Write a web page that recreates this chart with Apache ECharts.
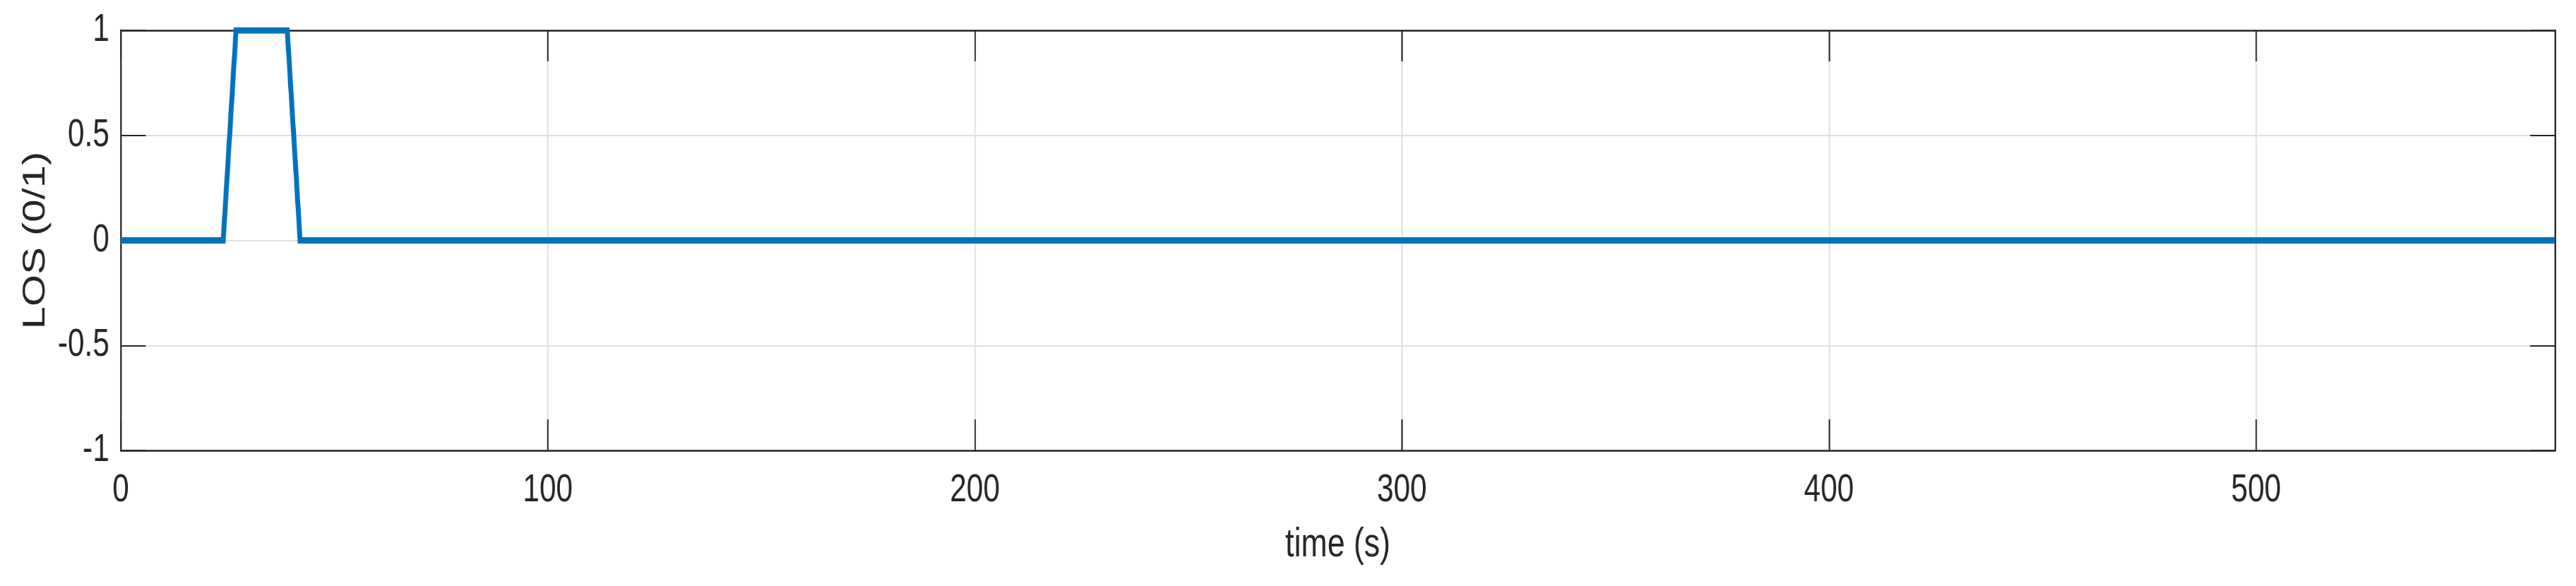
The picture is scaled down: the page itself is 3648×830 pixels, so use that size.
<!DOCTYPE html>
<html>
<head>
<meta charset="utf-8">
<script src="https://cdn.jsdelivr.net/npm/echarts@6/dist/echarts.min.js"></script>
<style>
html, body { margin: 0; padding: 0; background: #ffffff; overflow: hidden; width: 3648px; height: 830px; }
#chart { width: 4738px; height: 830px; transform: scaleX(0.77); transform-origin: 0 0; }
</style>
</head>
<body>
<div id="chart"></div>
<script>
// Data
const timeSec = [0, 24, 27, 39, 42, 570];
const losValue = [0, 0, 1, 1, 0, 0];
const xTicks = [0, 100, 200, 300, 400, 500];
const yTicks = [-1, -0.5, 0, 0.5, 1];
const xLabel = 'time (s)';
const yLabel = 'LOS (0/1)';

const X_MIN = 0, X_MAX = 570, X_STEP = 100;
const Y_MIN = -1, Y_MAX = 1, Y_STEP = 0.5;

const textColor = '#262626';
const fontFamily = '"Liberation Sans", Arial, Helvetica, sans-serif';
const gridColor = '#dfdfdf';

const seriesData = timeSec.map((t, i) => [t, losValue[i]]);

const xBase = { type: 'value', min: X_MIN, max: X_MAX, interval: X_STEP, gridIndex: 0 };
const yBase = { type: 'value', min: Y_MIN, max: Y_MAX, interval: Y_STEP, gridIndex: 0 };

const chart = echarts.init(document.getElementById('chart'), null, { renderer: 'canvas' });
chart.setOption({
  backgroundColor: '#ffffff',
  animation: false,
  grid: { left: 222, right: 39, top: 43, bottom: 192, containLabel: false },
  xAxis: [
    Object.assign({}, xBase, {
      position: 'bottom', z: 0,
      axisLine: { show: false }, axisTick: { show: false }, axisLabel: { show: false },
      splitLine: { show: true, lineStyle: { color: gridColor, width: 2.5 } }
    }),
    Object.assign({}, xBase, {
      position: 'bottom', z: 1,
      name: xLabel, nameLocation: 'middle', nameGap: 105,
      nameTextStyle: { color: textColor, fontSize: 58, fontFamily: fontFamily },
      axisLine: { show: true, onZero: false, lineStyle: { color: textColor, width: 2.5 } },
      axisTick: { show: true, inside: true, length: 44, lineStyle: { color: textColor, width: 2.6 } },
      axisLabel: {
        show: true, margin: 29, color: textColor, fontSize: 55, fontFamily: fontFamily,
        formatter: v => (xTicks.indexOf(v) >= 0 ? String(v) : '')
      },
      splitLine: { show: false }
    }),
    Object.assign({}, xBase, {
      position: 'top', z: 1,
      axisLine: { show: true, onZero: false, lineStyle: { color: textColor, width: 2.5 } },
      axisTick: { show: true, inside: true, length: 44, lineStyle: { color: textColor, width: 2.6 } },
      axisLabel: { show: false },
      splitLine: { show: false }
    })
  ],
  yAxis: [
    Object.assign({}, yBase, {
      position: 'left', z: 0,
      axisLine: { show: false }, axisTick: { show: false }, axisLabel: { show: false },
      splitLine: { show: true, lineStyle: { color: gridColor, width: 2 } }
    }),
    Object.assign({}, yBase, {
      position: 'left', z: 1,
      name: yLabel, nameLocation: 'middle', nameGap: 126,
      nameTextStyle: { color: textColor, fontSize: 58, fontFamily: fontFamily },
      axisLine: { show: true, onZero: false, lineStyle: { color: textColor, width: 2.8 } },
      axisTick: { show: true, inside: true, length: 46, lineStyle: { color: textColor, width: 2 } },
      axisLabel: {
        show: true, margin: 21, color: textColor, fontSize: 55, fontFamily: fontFamily,
        formatter: v => (yTicks.indexOf(v) >= 0 ? String(v) : '')
      },
      splitLine: { show: false }
    }),
    Object.assign({}, yBase, {
      position: 'right', z: 1,
      axisLine: { show: true, onZero: false, lineStyle: { color: textColor, width: 3 } },
      axisTick: { show: true, inside: true, length: 46, lineStyle: { color: textColor, width: 2 } },
      axisLabel: { show: false },
      splitLine: { show: false }
    })
  ],
  series: [{
    type: 'line',
    xAxisIndex: 1,
    yAxisIndex: 1,
    data: seriesData,
    showSymbol: false,
    symbol: 'none',
    z: 3,
    lineStyle: { color: '#0072BD', width: 9, join: 'miter' }
  }]
});
</script>
</body>
</html>
